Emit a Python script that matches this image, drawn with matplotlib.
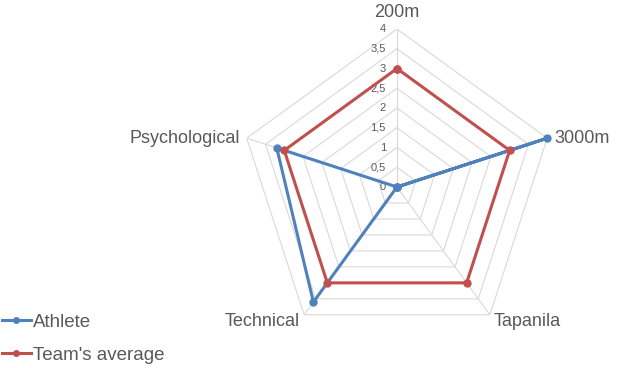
import numpy as np
import matplotlib.pyplot as plt

plt.rcParams['font.family'] = ['Liberation Sans', 'DejaVu Sans']

categories = ["200m", "3000m", "Tapanila", "Technical", "Psychological"]
athlete = [0, 4, 0, 3.6, 3.2]
team_avg = [3, 3, 3, 3, 3]
ticks = [0, 0.5, 1, 1.5, 2, 2.5, 3, 3.5, 4]
tick_labels = ["0", "0,5", "1", "1,5", "2", "2,5", "3", "3,5", "4"]

blue = "#4F81BD"
red = "#C0504D"
grid_col = "#D9D9D9"
txt_col = "#595959"

n = len(categories)
angles = np.linspace(0, 2 * np.pi, n, endpoint=False)
closed = np.append(angles, angles[0])

fig = plt.figure(figsize=(6.18, 3.68), dpi=100)
ax = fig.add_axes([0.3867, 0.0625, 0.5113, 0.8587], projection="polar")
ax.set_theta_offset(np.pi / 2)
ax.set_theta_direction(-1)
ax.set_ylim(0, 4)
ax.grid(False)
ax.spines["polar"].set_visible(False)
ax.set_xticks([])
ax.set_yticks([])
ax.patch.set_alpha(0)

# pentagon grid + spokes
for r in ticks[1:]:
    ax.plot(closed, [r] * (n + 1), color=grid_col, lw=0.8, zorder=1)
for a in angles:
    ax.plot([a, a], [0, 4], color=grid_col, lw=0.8, zorder=1)

# radial tick labels
for r, lab in zip(ticks, tick_labels):
    ax.annotate(lab, xy=(0, r), xytext=(-8, 0), textcoords="offset points",
                ha="right", va="center", fontsize=8, color=txt_col)

# category labels
offsets = [(0, 12, "center"), (5, 0, "left"), (3, -5, "left"),
           (-3, -5, "right"), (-5, 0, "right")]
for a, lab, (dx, dy, ha) in zip(angles, categories, offsets):
    ax.annotate(lab, xy=(a, 4), xytext=(dx, dy), textcoords="offset points",
                ha=ha, va="center", fontsize=13, color=txt_col)

ax.plot(closed, athlete + athlete[:1], color=blue, lw=2.2, marker="o",
        markersize=5, label="Athlete", zorder=3, clip_on=False)
ax.plot(closed, team_avg + team_avg[:1], color=red, lw=2.2, marker="o",
        markersize=5, label="Team's average", zorder=4, clip_on=False)

leg = fig.legend(loc="upper left", bbox_to_anchor=(0.003, 0.148), frameon=False,
                 fontsize=13.5, handlelength=1.55, handletextpad=0.1,
                 labelspacing=0.85, borderpad=0, borderaxespad=0, markerscale=0.8)
for t in leg.get_texts():
    t.set_color(txt_col)

fig.savefig("out.png", dpi=100)
